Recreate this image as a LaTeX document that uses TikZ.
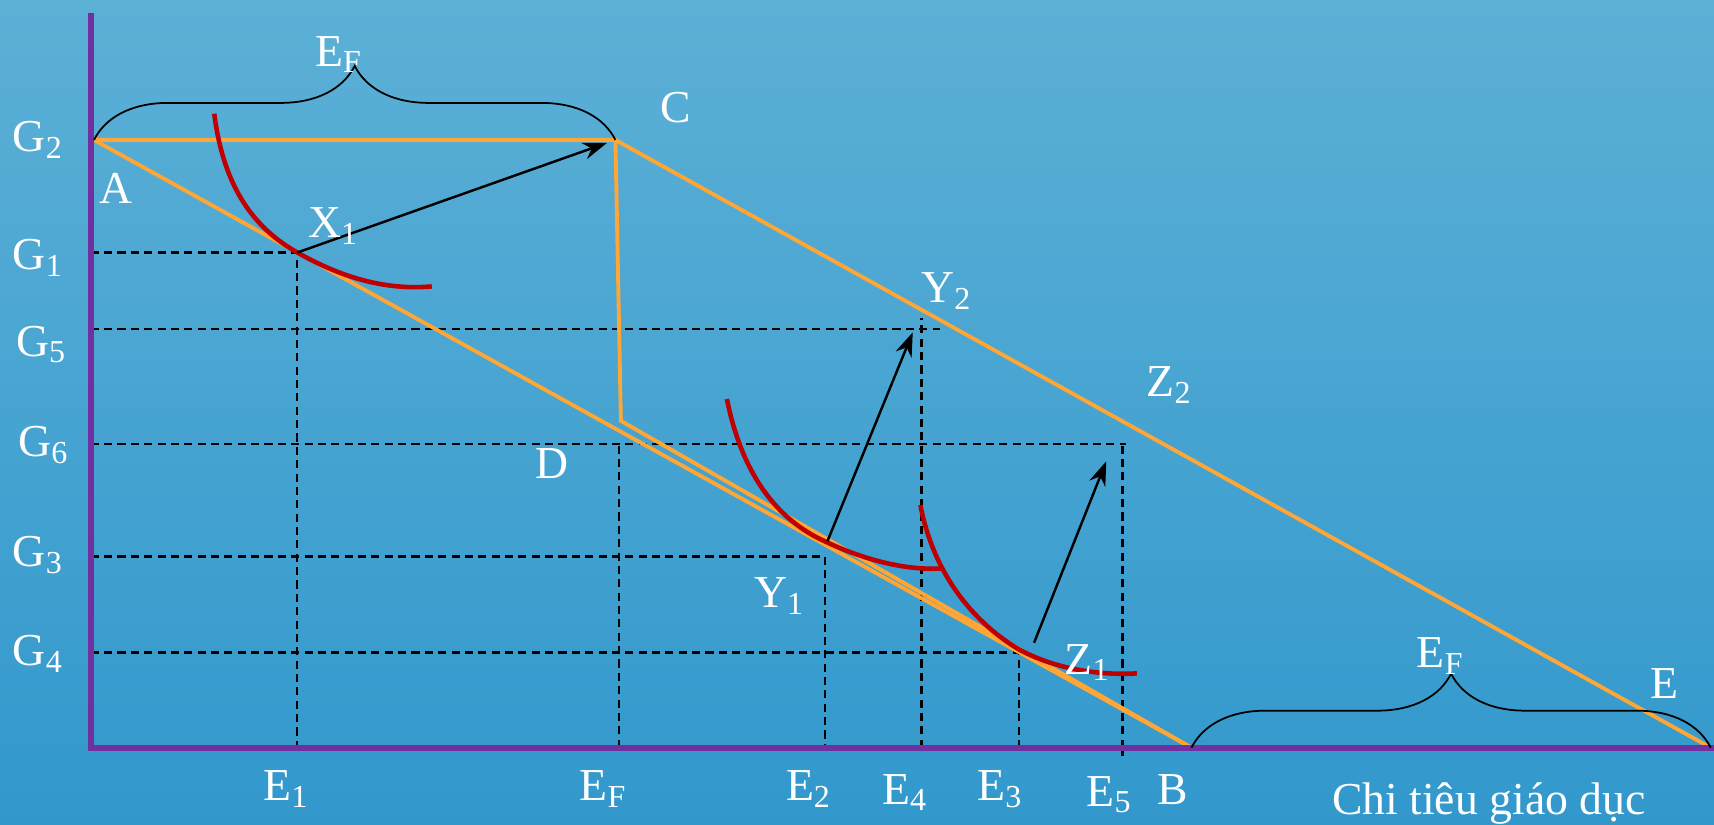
\documentclass[tikz,border=0pt]{standalone}
\usepackage{fontspec}
\setmainfont{Liberation Serif}
\usetikzlibrary{arrows.meta,decorations.pathreplacing}
\definecolor{slideTop}{RGB}{92,176,214}
\definecolor{slideBottom}{RGB}{50,152,204}
\definecolor{axisPurple}{RGB}{112,48,160}
\definecolor{budgetOrange}{RGB}{255,166,52}
\definecolor{curveRed}{RGB}{192,0,0}

\begin{document}
\begin{tikzpicture}[
  x=0.010931cm, y=-0.010931cm,
  lbl/.style={text=white, font=\fontsize{13}{15}\selectfont, inner sep=0pt},
  axis/.style={draw=axisPurple, line width=1.6pt},
  budget/.style={draw=budgetOrange, line width=1.1pt},
  indiff/.style={draw=curveRed, line width=1.3pt},
  guide/.style={draw=black, line width=0.65pt, dash pattern=on 2.3pt off 1.5pt},
  shiftarrow/.style={-{Stealth[length=2.4mm, width=1.7mm]}, line width=0.7pt},
  bracket/.style={decorate, decoration={brace, amplitude=0.74cm}, line width=0.5pt}
]
  % background
  \shade[top color=slideTop, bottom color=slideBottom] (0,0) rectangle (1568,754);
  \useasboundingbox (0,0) rectangle (1568,754);

  % points
  \coordinate (O) at (83,684);
  \coordinate (yTop) at (83,12);
  \coordinate (xEnd) at (1568,684);
  \coordinate (A) at (86,128);
  \coordinate (C) at (563,128);
  \coordinate (D) at (568,385);
  \coordinate (B) at (1090,684);
  \coordinate (E) at (1565,684);
  \coordinate (X1) at (272,231);
  \coordinate (Y1) at (757,495);
  \coordinate (Z1) at (946,588);
  \coordinate (Y2) at (835,304);
  \coordinate (Z2) at (1012,422);

  % ticks on the axes
  \coordinate (G1) at (83,231);
  \coordinate (G5) at (83,301);
  \coordinate (G6) at (83,406);
  \coordinate (G3) at (83,509);
  \coordinate (G4) at (83,597);
  \coordinate (E1) at (272,684);
  \coordinate (EF) at (566,684);
  \coordinate (E2) at (755,684);
  \coordinate (E4) at (843,684);
  \coordinate (E3) at (932,684);
  \coordinate (E5) at (1027,684);

  % dashed guides
  \draw[guide] (G1) -| (E1);
  \draw[guide] (G5) -- ++(777,0);
  \draw[guide] (E4) -- ++(0,-393);
  \draw[guide] (G6) -- ++(947,0);
  \draw[guide] (E5) -- ++(0,-278);
  \draw[guide] (E5) -- ++(0,10);
  \draw[guide] (EF) -- ++(0,-278);
  \draw[guide] (G3) -| (E2);
  \draw[guide] (G4) -| (E3);

  % budget lines
  \draw[budget] (A) -- (B);
  \draw[budget] (A) -- (C) -- (D) -- (B);
  \draw[budget] (C) -- (E);

  % indifference curves
  \draw[indiff] (196,104) .. controls (205,175) and (235,210) .. (X1)
                .. controls (309,252) and (350,266) .. (395,262);
  \draw[indiff] (665,365) .. controls (680,440) and (715,475) .. (748,492)
                .. controls (790,513) and (830,522) .. (862,520);
  \draw[indiff] (842,462) .. controls (855,530) and (895,572) .. (932,594)
                .. controls (965,612) and (1005,618) .. (1040,616);

  % shifts
  \draw[shiftarrow, shorten >=0.9mm] (X1) -- (C);
  \draw[shiftarrow] (Y1) -- (Y2);
  \draw[shiftarrow] (Z1) -- (Z2);

  % axes
  \draw[axis, line join=miter] (yTop) -- (O) -- (xEnd);

  % braces
  \draw[bracket] (A) -- (C);
  \draw[bracket] (B) -- (E);

  % labels
  \node[lbl] (lEFtop) at (310,50) {E\textsubscript{F}};
  \node[lbl] (lG2) at (35,128) {G\textsubscript{2}};
  \node[lbl] (lA) at (106,172) {A};
  \node[lbl] (lC) at (618,98) {C};
  \node[lbl] (lX1) at (305,207) {X\textsubscript{1}};
  \node[lbl] (lG1) at (35,236) {G\textsubscript{1}};
  \node[lbl] (lY2) at (866,266) {Y\textsubscript{2}};
  \node[lbl] (lG5) at (38,315) {G\textsubscript{5}};
  \node[lbl] (lZ2) at (1070,352) {Z\textsubscript{2}};
  \node[lbl] (lG6) at (40,407) {G\textsubscript{6}};
  \node[lbl] (lD) at (505,424) {D};
  \node[lbl] (lG3) at (35,508) {G\textsubscript{3}};
  \node[lbl] (lY1) at (713,545) {Y\textsubscript{1}};
  \node[lbl] (lG4) at (35,598) {G\textsubscript{4}};
  \node[lbl] (lZ1) at (995,606) {Z\textsubscript{1}};
  \node[lbl] (lEFright) at (1318,600) {E\textsubscript{F}};
  \node[lbl] (lE) at (1523,625) {E};
  \node[lbl] (lE1) at (262,722) {E\textsubscript{1}};
  \node[lbl] (lEF) at (552,722) {E\textsubscript{F}};
  \node[lbl] (lE2) at (740,722) {E\textsubscript{2}};
  \node[lbl] (lE4) at (828,725) {E\textsubscript{4}};
  \node[lbl] (lE3) at (915,722) {E\textsubscript{3}};
  \node[lbl] (lE5) at (1015,727) {E\textsubscript{5}};
  \node[lbl] (lB) at (1073,722) {B};
  \node[lbl] (lAxis) at (1362,735) {Chi tiêu giáo dục};
\end{tikzpicture}
\end{document}
